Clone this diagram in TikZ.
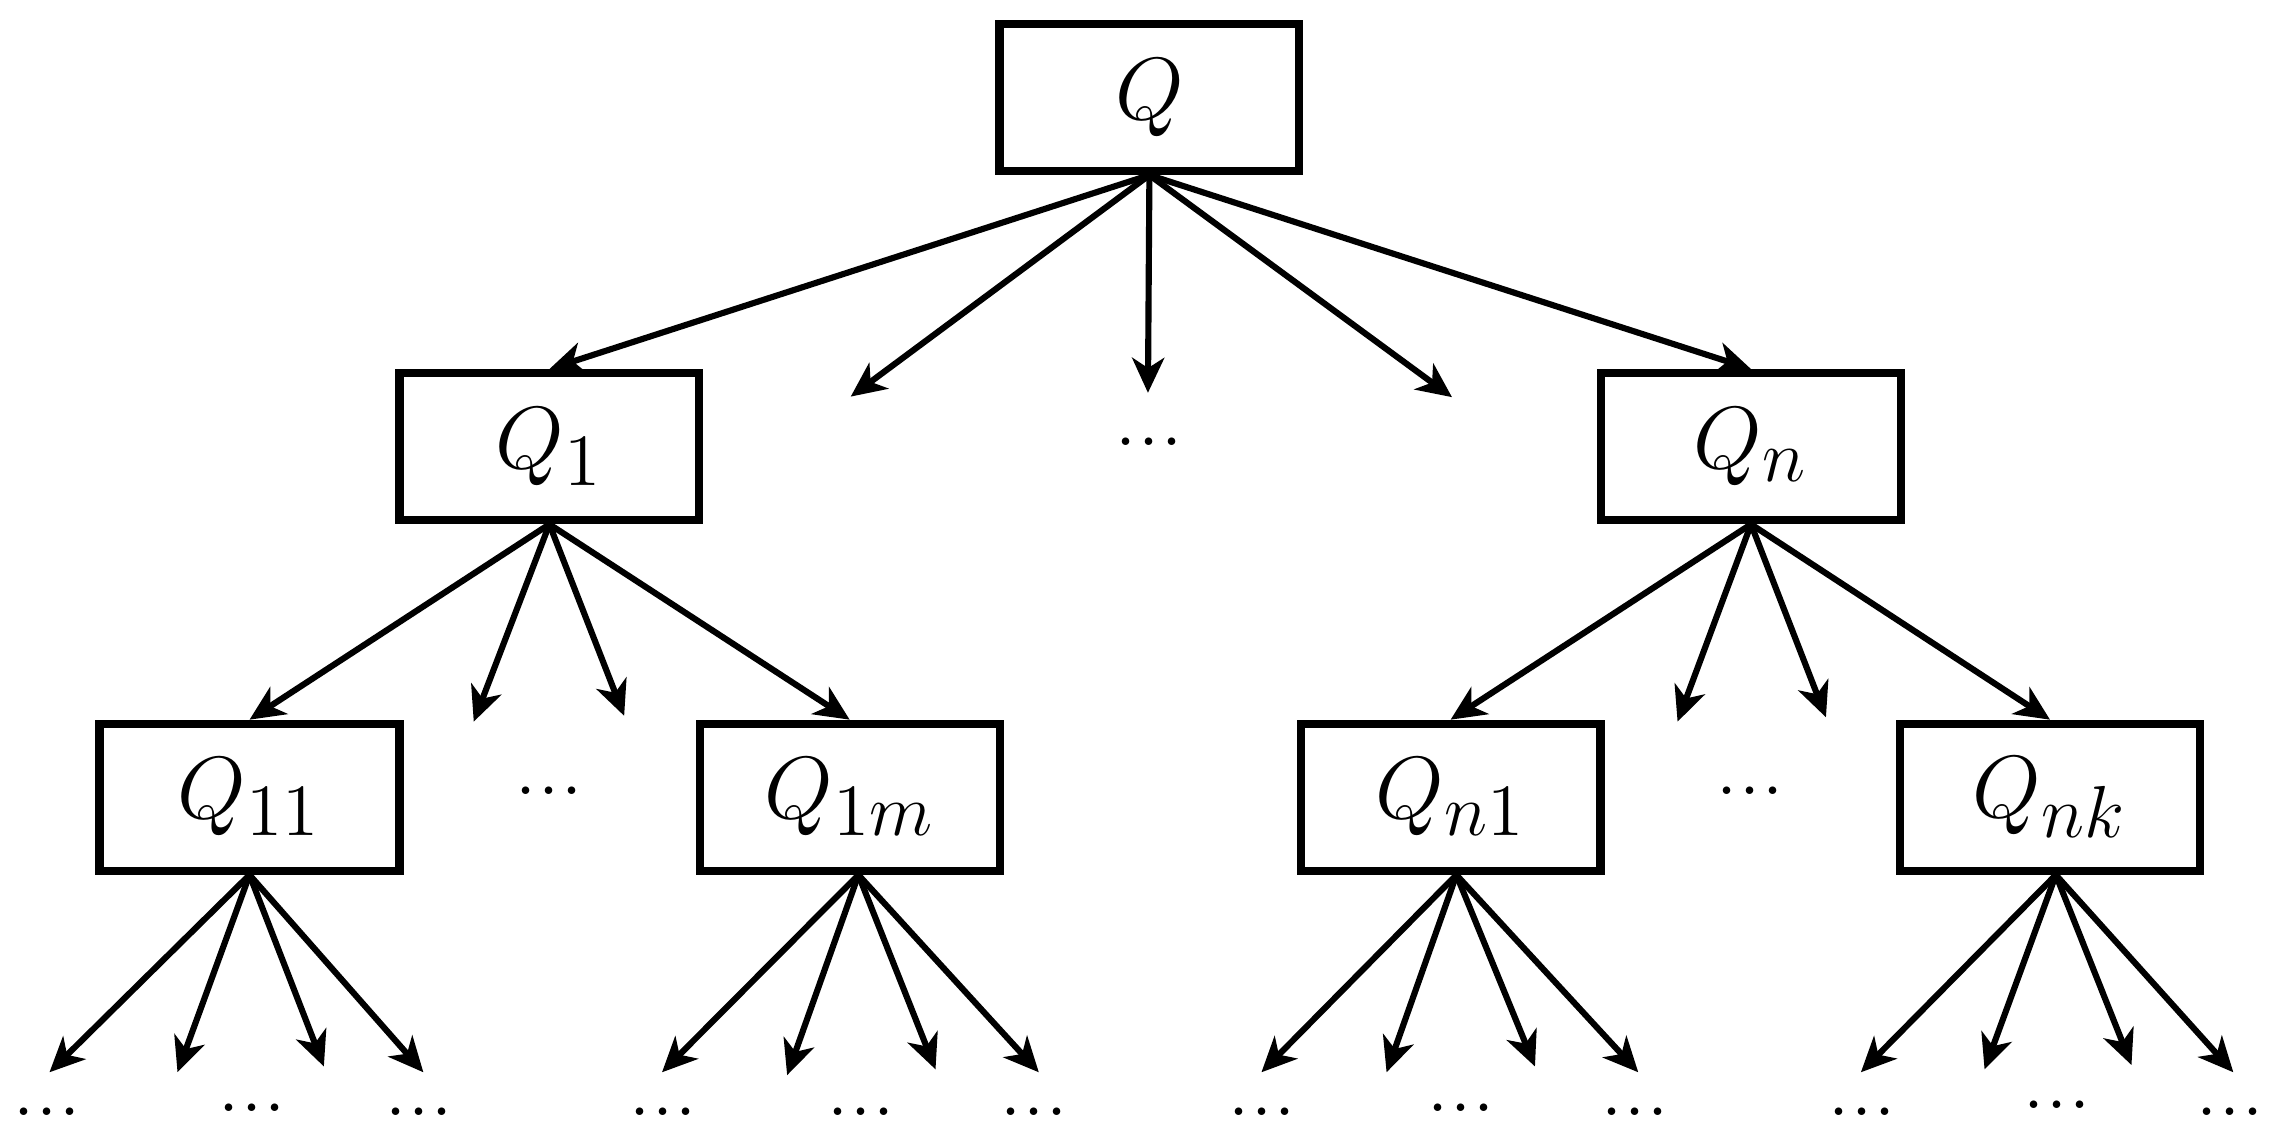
\documentclass[tikz,border=0pt]{standalone}
\usetikzlibrary{arrows.meta}
\begin{document}
\begin{tikzpicture}[x=0.01cm,y=-0.01cm,
  box/.style={draw, line width=1.6pt, minimum width=2.06cm, minimum height=1.01cm,
    inner sep=0pt, font=\fontsize{19}{23}\selectfont},
  arr/.style={line width=1.2pt, -{Stealth[length=2.4mm,width=2.2mm,inset=0.7mm]}},
  dotsnode/.style={anchor=base, inner sep=0pt, font=\fontsize{18}{22}\selectfont}]
\useasboundingbox (0,0) rectangle (1565,785);

% boxes
\node[box] (Q)   at (790,67)    {$Q$};
\node[box] (Q1)  at (377.6,307) {$Q_1$};
\node[box] (Qn)  at (1203.5,307){$Q_n$};
\node[box] (Q11) at (171.5,548) {$Q_{11}$};
\node[box] (Q1m) at (584,548)   {$Q_{1m}$};
\node[box] (Qn1) at (997,548)   {$Q_{n1}$};
\node[box] (Qnk) at (1409,548)  {$Q_{nk}$};

% middle dots
\node[dotsnode] (d0) at (790,306)  {...};
\node[dotsnode] (d1) at (377.5,546) {...};
\node[dotsnode] (d2) at (1203,546) {...};

% free ends, level 1
\coordinate (t2) at (584.7,272.6);
\coordinate (t3) at (789,270);
\coordinate (t4) at (998,273);
% level 2
\coordinate (a2) at (325.6,496);
\coordinate (a3) at (429,492);
\coordinate (b2) at (1153,496);
\coordinate (b3) at (1255,493);
% level 3
\coordinate (p1) at (34,737);   \coordinate (p2) at (122,737);  \coordinate (p3) at (222.6,733); \coordinate (p4) at (291,737);
\coordinate (q1) at (455,737);  \coordinate (q2) at (541,739);  \coordinate (q3) at (643,735);   \coordinate (q4) at (714,737);
\coordinate (r1) at (867,737);  \coordinate (r2) at (953,737);  \coordinate (r3) at (1055,733);  \coordinate (r4) at (1126,737);
\coordinate (s1) at (1279,737); \coordinate (s2) at (1364,735); \coordinate (s3) at (1465,732);  \coordinate (s4) at (1535,737);

% bottom dots
\node[dotsnode] (e1) at (32,767)   {...};
\node[dotsnode] (e2) at (173,764)  {...};
\node[dotsnode] (e3) at (288,767)  {...};
\node[dotsnode] (f1) at (455.5,767){...};
\node[dotsnode] (f2) at (592,767)  {...};
\node[dotsnode] (f3) at (711,767)  {...};
\node[dotsnode] (g1) at (867.5,767){...};
\node[dotsnode] (g2) at (1004,764) {...};
\node[dotsnode] (g3) at (1124,767) {...};
\node[dotsnode] (h1) at (1280,767) {...};
\node[dotsnode] (h2) at (1414,762) {...};
\node[dotsnode] (h3) at (1533,767) {...};

% arrows level 1
\draw[arr] (Q.south) -- (Q1.north);
\draw[arr] (Q.south) -- (t2);
\draw[arr] (Q.south) -- (t3);
\draw[arr] (Q.south) -- (t4);
\draw[arr] (Q.south) -- (Qn.north);
% level 2
\draw[arr] (Q1.south) -- (Q11.north);
\draw[arr] (Q1.south) -- (a2);
\draw[arr] (Q1.south) -- (a3);
\draw[arr] (Q1.south) -- (Q1m.north);
\draw[arr] (Qn.south) -- (Qn1.north);
\draw[arr] (Qn.south) -- (b2);
\draw[arr] (Qn.south) -- (b3);
\draw[arr] (Qn.south) -- (Qnk.north);
% level 3
\foreach \t in {p1,p2,p3,p4} \draw[arr] (Q11.south) -- (\t);
\foreach \t in {q1,q2,q3,q4} \draw[arr] ([xshift=0.06cm]Q1m.south) -- (\t);
\foreach \t in {r1,r2,r3,r4} \draw[arr] ([xshift=0.04cm]Qn1.south) -- (\t);
\foreach \t in {s1,s2,s3,s4} \draw[arr] ([xshift=0.04cm]Qnk.south) -- (\t);
\end{tikzpicture}
\end{document}
